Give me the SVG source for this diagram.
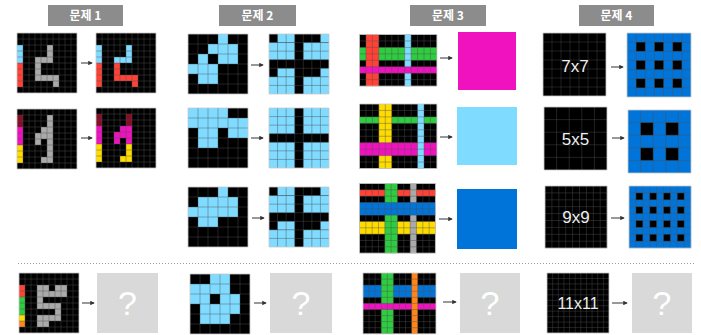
<svg xmlns="http://www.w3.org/2000/svg" width="701" height="335" viewBox="0 0 701 335">
<defs>
<style>
.hdr rect{fill:#8c8c8c}
.hdr text{fill:#fff;font-family:"Noto Sans CJK KR","Noto Sans",sans-serif;font-weight:bold;font-size:12px;text-anchor:middle}
.K{fill:#000}.L{fill:#7FDBFF}.R{fill:#FF4136}.G{fill:#2ECC40}.Y{fill:#FFDC00}.A{fill:#AAAAAA}.M{fill:#F012BE}.O{fill:#FF851B}.D{fill:#870C25}.U{fill:#0074D9}
.gl{fill:none;stroke:#505050;stroke-opacity:0.85}
.fr{fill:none;stroke:#c8c8c8;stroke-width:0.8;vector-effect:non-scaling-stroke}
.q{fill:#d9d9d9}
.qt{fill:#fff;font-family:"Liberation Sans",Arial,sans-serif;font-size:34px;text-anchor:middle}
.lbl{fill:#eee;font-family:"Liberation Sans",Arial,sans-serif;font-size:17px;text-anchor:middle}
.arr{stroke:#333;stroke-width:1;fill:none;marker-end:url(#ah)}
.sep{stroke:#999;stroke-width:1;stroke-dasharray:1 2;fill:none}
</style>
<marker id="ah" viewBox="0 0 6 6" refX="5" refY="3" markerWidth="4.5" markerHeight="4.5" orient="auto"><path d="M0 0L6 3L0 6z" fill="#333"/></marker>
<path id="g10" d="M1 0V10M2 0V10M3 0V10M4 0V10M5 0V10M6 0V10M7 0V10M8 0V10M9 0V10M0 1H10M0 2H10M0 3H10M0 4H10M0 5H10M0 6H10M0 7H10M0 8H10M0 9H10"/>
<path id="g6" d="M1 0V6M2 0V6M3 0V6M4 0V6M5 0V6M0 1H6M0 2H6M0 3H6M0 4H6M0 5H6"/>
<path id="g7" d="M1 0V7M2 0V7M3 0V7M4 0V7M5 0V7M6 0V7M0 1H7M0 2H7M0 3H7M0 4H7M0 5H7M0 6H7"/>
<path id="g5" d="M1 0V5M2 0V5M3 0V5M4 0V5M0 1H5M0 2H5M0 3H5M0 4H5"/>
<path id="g9" d="M1 0V9M2 0V9M3 0V9M4 0V9M5 0V9M6 0V9M7 0V9M8 0V9M0 1H9M0 2H9M0 3H9M0 4H9M0 5H9M0 6H9M0 7H9M0 8H9"/>
<path id="g11" d="M1 0V11M2 0V11M3 0V11M4 0V11M5 0V11M6 0V11M7 0V11M8 0V11M9 0V11M10 0V11M0 1H11M0 2H11M0 3H11M0 4H11M0 5H11M0 6H11M0 7H11M0 8H11M0 9H11M0 10H11"/>
<path id="g12x8" d="M1 0V8M2 0V8M3 0V8M4 0V8M5 0V8M6 0V8M7 0V8M8 0V8M9 0V8M10 0V8M11 0V8M0 1H12M0 2H12M0 3H12M0 4H12M0 5H12M0 6H12M0 7H12"/>
<path id="g12x10" d="M1 0V10M2 0V10M3 0V10M4 0V10M5 0V10M6 0V10M7 0V10M8 0V10M9 0V10M10 0V10M11 0V10M0 1H12M0 2H12M0 3H12M0 4H12M0 5H12M0 6H12M0 7H12M0 8H12M0 9H12"/>
<path id="g12x11" d="M1 0V11M2 0V11M3 0V11M4 0V11M5 0V11M6 0V11M7 0V11M8 0V11M9 0V11M10 0V11M11 0V11M0 1H12M0 2H12M0 3H12M0 4H12M0 5H12M0 6H12M0 7H12M0 8H12M0 9H12M0 10H12"/>
</defs>
<rect width="701" height="335" fill="#fff"/>

<g id="headers" class="hdr">
<g id="h1"><rect x="48" y="5" width="75" height="21"/><text x="85.5" y="20">문제 1</text></g>
<g id="h2"><rect x="219" y="5" width="77" height="21"/><text x="257.5" y="20">문제 2</text></g>
<g id="h3"><rect x="410" y="5" width="76" height="21"/><text x="448" y="20">문제 3</text></g>
<g id="h4"><rect x="579" y="5" width="75" height="21"/><text x="616.5" y="20">문제 4</text></g>
</g>

<!-- Problem 1 -->
<g id="p1-in1" transform="translate(17,33) scale(6)">
<rect class="K" width="10" height="10"/>
<rect class="L" x="0" y="2" width="1" height="3"/><rect class="R" x="0" y="5" width="1" height="4"/>
<rect class="A" x="5" y="2" width="1" height="3"/><rect class="A" x="3" y="4" width="2" height="1"/><rect class="A" x="3" y="5" width="1" height="3"/><rect class="A" x="4" y="7" width="3" height="1"/><rect class="A" x="6" y="8" width="1" height="1"/>
<use href="#g10" class="gl" stroke-width="0.085"/><rect class="fr" width="10" height="10"/>
</g>
<g id="p1-out1" transform="translate(96,33) scale(6)">
<rect class="K" width="10" height="10"/>
<rect class="L" x="0" y="2" width="1" height="3"/><rect class="R" x="0" y="5" width="1" height="4"/>
<rect class="L" x="5" y="2" width="1" height="3"/><rect class="L" x="3" y="4" width="2" height="1"/><rect class="R" x="3" y="5" width="1" height="3"/><rect class="R" x="4" y="7" width="3" height="1"/><rect class="R" x="6" y="8" width="1" height="1"/>
<use href="#g10" class="gl" stroke-width="0.085"/><rect class="fr" width="10" height="10"/>
</g>
<g id="p1-in2" transform="translate(17,109) scale(6)">
<rect class="K" width="10" height="10"/>
<rect class="D" x="0" y="1" width="1" height="2"/><rect class="M" x="0" y="3" width="1" height="3"/><rect class="Y" x="0" y="6" width="1" height="3"/>
<rect class="A" x="5" y="1" width="1" height="8"/><rect class="A" x="4" y="3" width="1" height="1"/><rect class="A" x="3" y="4" width="2" height="1"/><rect class="A" x="3" y="5" width="1" height="1"/><rect class="A" x="4" y="8" width="1" height="1"/>
<use href="#g10" class="gl" stroke-width="0.085"/><rect class="fr" width="10" height="10"/>
</g>
<g id="p1-out2" transform="translate(96,108) scale(6)">
<rect class="K" width="10" height="10"/>
<rect class="D" x="0" y="1" width="1" height="2"/><rect class="M" x="0" y="3" width="1" height="3"/><rect class="Y" x="0" y="6" width="1" height="3"/>
<rect class="D" x="5" y="1" width="1" height="2"/><rect class="M" x="5" y="3" width="1" height="3"/><rect class="M" x="4" y="3" width="1" height="1"/><rect class="M" x="3" y="4" width="2" height="1"/><rect class="M" x="3" y="5" width="1" height="1"/><rect class="Y" x="5" y="6" width="1" height="3"/><rect class="Y" x="4" y="8" width="1" height="1"/>
<use href="#g10" class="gl" stroke-width="0.085"/><rect class="fr" width="10" height="10"/>
</g>
<g id="p1-test" transform="translate(19,273) scale(6)">
<rect class="K" width="10" height="10"/>
<rect class="R" x="0" y="2" width="1" height="2"/><rect class="G" x="0" y="4" width="1" height="3"/><rect class="Y" x="0" y="7" width="1" height="1"/><rect class="O" x="0" y="8" width="1" height="1"/>
<rect class="A" x="3" y="2" width="2" height="1"/><rect class="A" x="6" y="2" width="2" height="1"/><rect class="A" x="3" y="3" width="5" height="1"/><rect class="A" x="3" y="4" width="1" height="1"/><rect class="A" x="3" y="5" width="4" height="1"/><rect class="A" x="6" y="6" width="1" height="1"/><rect class="A" x="3" y="7" width="4" height="1"/><rect class="A" x="3" y="8" width="2" height="1"/>
<use href="#g10" class="gl" stroke-width="0.085"/><rect class="fr" width="10" height="10"/>
</g>
<g id="p1-q"><rect class="q" x="97" y="273" width="61" height="60"/><text class="qt" x="127.5" y="315">?</text></g>

<!-- Problem 2 -->
<g id="p2-in1" transform="translate(188,34) scale(10)">
<rect class="K" width="6" height="6"/>
<rect class="L" x="3" y="0" width="1" height="1"/><rect class="L" x="2" y="1" width="3" height="1"/><rect class="L" x="1" y="2" width="1" height="1"/><rect class="L" x="3" y="2" width="2" height="1"/><rect class="L" x="0" y="3" width="3" height="1"/><rect class="L" x="1" y="4" width="2" height="1"/>
<use href="#g6" class="gl" stroke-width="0.05"/><rect class="fr" width="6" height="6"/>
</g>
<g id="p2-out1" transform="translate(269,34) scale(8.5714)">
<rect class="K" width="7" height="7"/>
<rect class="L" x="1" y="0" width="2" height="1"/><rect class="L" x="6" y="0" width="1" height="1"/><rect class="L" x="0" y="1" width="3" height="2"/><rect class="L" x="4" y="1" width="3" height="2"/>
<rect class="L" x="1" y="4" width="2" height="1"/><rect class="L" x="6" y="4" width="1" height="1"/><rect class="L" x="0" y="5" width="3" height="2"/><rect class="L" x="4" y="5" width="3" height="2"/>
<use href="#g7" class="gl" stroke-width="0.06"/><rect class="fr" width="7" height="7"/>
</g>
<g id="p2-in2" transform="translate(188,108) scale(10)">
<rect class="K" width="6" height="6"/>
<rect class="L" x="0" y="0" width="4" height="1"/><rect class="L" x="0" y="1" width="6" height="1"/><rect class="L" x="1" y="2" width="2" height="1"/><rect class="L" x="4" y="2" width="2" height="1"/><rect class="L" x="1" y="3" width="2" height="1"/>
<use href="#g6" class="gl" stroke-width="0.05"/><rect class="fr" width="6" height="6"/>
</g>
<g id="p2-out2" transform="translate(269,108) scale(8.5714)">
<rect class="K" width="7" height="7"/>
<rect class="L" x="0" y="0" width="3" height="3"/><rect class="L" x="4" y="0" width="3" height="3"/><rect class="L" x="0" y="4" width="3" height="3"/><rect class="L" x="4" y="4" width="3" height="3"/>
<use href="#g7" class="gl" stroke-width="0.06"/><rect class="fr" width="7" height="7"/>
</g>
<g id="p2-in3" transform="translate(188,187) scale(10)">
<rect class="K" width="6" height="6"/>
<rect class="L" x="3" y="0" width="1" height="1"/><rect class="L" x="1" y="1" width="4" height="1"/><rect class="L" x="0" y="2" width="5" height="1"/><rect class="L" x="1" y="3" width="2" height="1"/>
<use href="#g6" class="gl" stroke-width="0.05"/><rect class="fr" width="6" height="6"/>
</g>
<g id="p2-out3" transform="translate(269,187) scale(8.5714)">
<rect class="K" width="7" height="7"/>
<rect class="L" x="1" y="0" width="2" height="1"/><rect class="L" x="6" y="0" width="1" height="1"/><rect class="L" x="0" y="1" width="3" height="2"/><rect class="L" x="4" y="1" width="3" height="2"/>
<rect class="L" x="1" y="4" width="2" height="1"/><rect class="L" x="6" y="4" width="1" height="1"/><rect class="L" x="0" y="5" width="3" height="2"/><rect class="L" x="4" y="5" width="3" height="2"/>
<use href="#g7" class="gl" stroke-width="0.06"/><rect class="fr" width="7" height="7"/>
</g>
<g id="p2-test" transform="translate(190,274) scale(10)">
<rect class="K" width="6" height="6"/>
<rect class="L" x="2" y="0" width="2" height="1"/><rect class="L" x="0" y="1" width="4" height="1"/><rect class="L" x="0" y="2" width="2" height="1"/><rect class="L" x="3" y="2" width="2" height="1"/><rect class="L" x="1" y="3" width="4" height="1"/><rect class="L" x="1" y="4" width="3" height="1"/>
<use href="#g6" class="gl" stroke-width="0.05"/><rect class="fr" width="6" height="6"/>
</g>
<g id="p2-q"><rect class="q" x="270" y="273" width="62" height="60"/><text class="qt" x="301" y="315">?</text></g>

<!-- Problem 3 -->
<g id="p3-in1" transform="translate(359.5,34.5) scale(6.45)">
<rect class="K" width="12" height="8"/>
<rect class="G" x="0" y="2" width="12" height="2"/><rect class="R" x="1" y="0" width="2" height="8"/><rect class="L" x="7" y="0" width="1" height="8"/><rect class="M" x="0" y="5" width="12" height="1"/>
<use href="#g12x8" class="gl" stroke-width="0.078"/><rect class="fr" width="12" height="8"/>
</g>
<g id="p3-out1"><rect class="M" x="458" y="32" width="58" height="58"/></g>
<g id="p3-in2" transform="translate(359.5,104) scale(6.45)">
<rect class="K" width="12" height="10"/>
<rect class="G" x="0" y="2" width="12" height="1"/><rect class="Y" x="3" y="0" width="2" height="10"/><rect class="M" x="0" y="6" width="12" height="2"/><rect class="L" x="9" y="0" width="1" height="10"/>
<use href="#g12x10" class="gl" stroke-width="0.078"/><rect class="fr" width="12" height="10"/>
</g>
<g id="p3-out2"><rect class="L" x="457" y="107" width="60" height="58"/></g>
<g id="p3-in3" transform="translate(359.5,183.5) scale(6.33)">
<rect class="K" width="12" height="11"/>
<rect class="R" x="0" y="1" width="12" height="1"/><rect class="Y" x="0" y="6" width="12" height="2"/><rect class="G" x="4" y="0" width="2" height="11"/><rect class="A" x="8" y="0" width="1" height="11"/><rect class="U" x="0" y="3" width="12" height="2"/>
<use href="#g12x11" class="gl" stroke-width="0.079"/><rect class="fr" width="12" height="11"/>
</g>
<g id="p3-out3"><rect class="U" x="457" y="189" width="60" height="60"/></g>
<g id="p3-test" transform="translate(363,273) scale(6.08)">
<rect class="K" width="12" height="10"/>
<rect class="U" x="0" y="2" width="12" height="2"/><rect class="G" x="3" y="0" width="2" height="10"/><rect class="M" x="0" y="5" width="12" height="1"/><rect class="O" x="8" y="0" width="1" height="10"/>
<use href="#g12x10" class="gl" stroke-width="0.082"/><rect class="fr" width="12" height="10"/>
</g>
<g id="p3-q"><rect class="q" x="460" y="273" width="60" height="60"/><text class="qt" x="490" y="315">?</text></g>

<!-- Problem 4 -->
<g id="p4-in1">
<g transform="translate(543,33) scale(9)"><rect class="K" width="7" height="7"/><use href="#g7" class="gl" stroke-width="0.05"/><rect class="fr" width="7" height="7"/></g>
<text class="lbl" x="575" y="72">7x7</text>
</g>
<g id="p4-out1" transform="translate(627,33) scale(9.143)">
<rect class="U" width="7" height="7"/>
<rect class="K" x="1" y="1" width="1" height="1"/><rect class="K" x="3" y="1" width="1" height="1"/><rect class="K" x="5" y="1" width="1" height="1"/>
<rect class="K" x="1" y="3" width="1" height="1"/><rect class="K" x="3" y="3" width="1" height="1"/><rect class="K" x="5" y="3" width="1" height="1"/>
<rect class="K" x="1" y="5" width="1" height="1"/><rect class="K" x="3" y="5" width="1" height="1"/><rect class="K" x="5" y="5" width="1" height="1"/>
<use href="#g7" class="gl" stroke-width="0.055"/><rect class="fr" width="7" height="7"/>
</g>
<g id="p4-in2">
<g transform="translate(544,107) scale(12.6)"><rect class="K" width="5" height="5"/><use href="#g5" class="gl" stroke-width="0.04"/><rect class="fr" width="5" height="5"/></g>
<text class="lbl" x="575.5" y="145">5x5</text>
</g>
<g id="p4-out2" transform="translate(628,110) scale(12.6)">
<rect class="U" width="5" height="5"/>
<rect class="K" x="1" y="1" width="1" height="1"/><rect class="K" x="3" y="1" width="1" height="1"/><rect class="K" x="1" y="3" width="1" height="1"/><rect class="K" x="3" y="3" width="1" height="1"/>
<use href="#g5" class="gl" stroke-width="0.04"/><rect class="fr" width="5" height="5"/>
</g>
<g id="p4-in3">
<g transform="translate(545,186) scale(6.9)"><rect class="K" width="9" height="9"/><use href="#g9" class="gl" stroke-width="0.072"/><rect class="fr" width="9" height="9"/></g>
<text class="lbl" x="576" y="223">9x9</text>
</g>
<g id="p4-out3" transform="translate(629,186) scale(6.9)">
<rect class="U" width="9" height="9"/>
<rect class="K" x="1" y="1" width="1" height="1"/><rect class="K" x="3" y="1" width="1" height="1"/><rect class="K" x="5" y="1" width="1" height="1"/><rect class="K" x="7" y="1" width="1" height="1"/>
<rect class="K" x="1" y="3" width="1" height="1"/><rect class="K" x="3" y="3" width="1" height="1"/><rect class="K" x="5" y="3" width="1" height="1"/><rect class="K" x="7" y="3" width="1" height="1"/>
<rect class="K" x="1" y="5" width="1" height="1"/><rect class="K" x="3" y="5" width="1" height="1"/><rect class="K" x="5" y="5" width="1" height="1"/><rect class="K" x="7" y="5" width="1" height="1"/>
<rect class="K" x="1" y="7" width="1" height="1"/><rect class="K" x="3" y="7" width="1" height="1"/><rect class="K" x="5" y="7" width="1" height="1"/><rect class="K" x="7" y="7" width="1" height="1"/>
<use href="#g9" class="gl" stroke-width="0.072"/><rect class="fr" width="9" height="9"/>
</g>
<g id="p4-test">
<g transform="translate(547,273) scale(5.636,5.455)"><rect class="K" width="11" height="11"/><use href="#g11" class="gl" stroke-width="0.085"/><rect class="fr" width="11" height="11"/></g>
<text class="lbl" x="578" y="309" style="font-size:16px">11x11</text>
</g>
<g id="p4-q"><rect class="q" x="632" y="273" width="60" height="60"/><text class="qt" x="662" y="315">?</text></g>

<g id="separator"><path class="sep" d="M18 263.5H694"/></g>

<g id="connectors">
<path class="arr" d="M81 63H92"/>
<path class="arr" d="M81 138H92"/>
<path class="arr" d="M82 303H94"/>
<path class="arr" d="M251 65H263"/>
<path class="arr" d="M251 138H263"/>
<path class="arr" d="M252 218H264"/>
<path class="arr" d="M254 303H266"/>
<path class="arr" d="M440 58H452"/>
<path class="arr" d="M440 137H452"/>
<path class="arr" d="M439 219H452"/>
<path class="arr" d="M443 302H456"/>
<path class="arr" d="M611 67H623"/>
<path class="arr" d="M612 138H624"/>
<path class="arr" d="M611 218H624"/>
<path class="arr" d="M612 303H627"/>
</g>
</svg>
